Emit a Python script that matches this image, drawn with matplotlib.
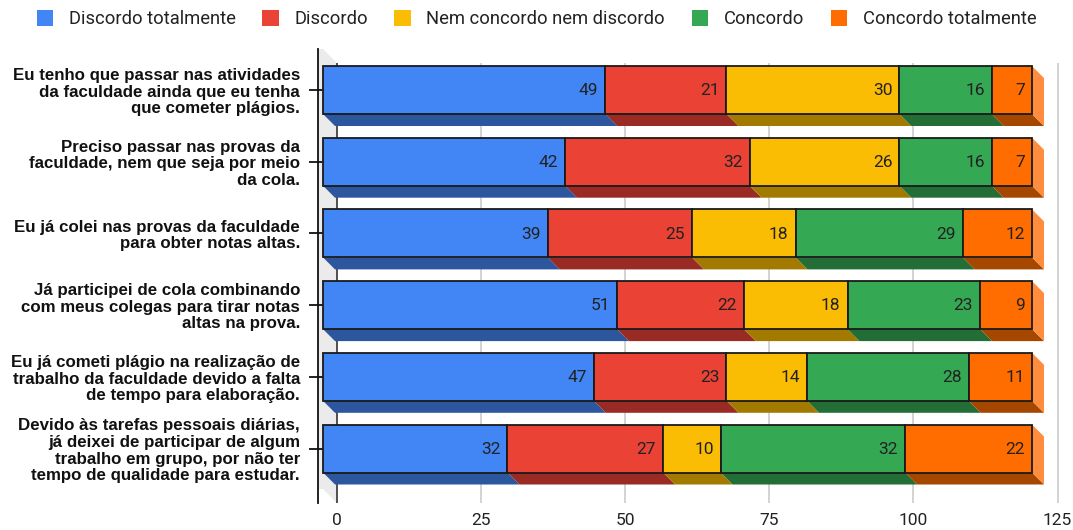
import matplotlib
matplotlib.use("Agg")
import matplotlib.pyplot as plt
from matplotlib.patches import Polygon, Patch
import numpy as np

plt.rcParams['font.family'] = ['Roboto', 'DejaVu Sans']

# dados do gráfico
perguntas = [
    "Eu tenho que passar nas atividades\nda faculdade ainda que eu tenha\nque cometer plágios.",
    "Preciso passar nas provas da\nfaculdade, nem que seja por meio\nda cola.",
    "Eu já colei nas provas da faculdade\npara obter notas altas.",
    "Já participei de cola combinando\ncom meus colegas para tirar notas\naltas na prova.",
    "Eu já cometi plágio na realização de\ntrabalho da faculdade devido a falta\nde tempo para elaboração.",
    "Devido às tarefas pessoais diárias,\njá deixei de participar de algum\ntrabalho em grupo, por não ter\ntempo de qualidade para estudar.",
]
respostas = ["Discordo totalmente", "Discordo", "Nem concordo nem discordo",
             "Concordo", "Concordo totalmente"]
discordo_totalmente = [49, 42, 39, 51, 47, 32]
discordo = [21, 32, 25, 22, 23, 27]
neutro = [30, 26, 18, 18, 14, 10]
concordo = [16, 16, 29, 23, 28, 32]
concordo_totalmente = [7, 7, 12, 9, 11, 22]
ticks_x = [0, 25, 50, 75, 100, 125]

series = [discordo_totalmente, discordo, neutro, concordo, concordo_totalmente]
cores = ["#4285F4", "#EA4335", "#FBBC04", "#34A853", "#FF6D01"]
sombras = ["#2C579E", "#992B24", "#A37A00", "#226E36", "#A64700"]
lateral = "#FF8D3D"

W, H = 1073, 530
fig = plt.figure(figsize=(W / 100, H / 100), dpi=100)

# geometria em pixels -> unidades de dados
px_x = 5.764          # pixels por unidade no plano da frente
px_y = 71.7           # pixels entre categorias
ax_l, ax_r, ax_t, ax_b = 318, 1060, 49, 503
x0_px, y0_px = 323, 90
ax = fig.add_axes([ax_l / W, (H - ax_b) / H, (ax_r - ax_l) / W, (ax_b - ax_t) / H])
xlim = (-(x0_px - ax_l) / px_x, (ax_r - x0_px) / px_x)
ylim = ((ax_b - y0_px) / px_y, (ax_t - y0_px) / px_y)
ax.set_xlim(*xlim)
ax.set_ylim(*ylim)

DX, DY = 12 / px_x, 12 / px_y          # profundidade das sombras
GDX, GDY = 14 / px_x, 14 / px_y        # profundidade do plano de fundo
altura = 48 / px_y
linhas = np.arange(len(perguntas))

# parede lateral cinza
parede = Polygon([(xlim[0], ylim[1]), (0, ylim[1]), (GDX, ylim[1] + GDY),
                  (GDX, ylim[0]), (0, ylim[0] - GDY), (xlim[0], ylim[0] - GDY)],
                 closed=True, facecolor="#EBEBEB", edgecolor="none", zorder=0.5)
ax.add_patch(parede)

# linhas de grade no plano de fundo
for t in ticks_x:
    ax.vlines(t + GDX, ylim[1] + GDY, ylim[0],
              colors="#333333" if t == 0 else "#CCCCCC", linewidth=1.2, zorder=1)

esquerda = np.zeros(len(perguntas))
for vals, cor, sombra, nome in zip(series, cores, sombras, respostas):
    vals = np.array(vals, dtype=float)
    for i, (x0, w) in enumerate(zip(esquerda, vals)):
        yb = i + altura / 2
        ax.add_patch(Polygon([(x0, yb), (x0 + w, yb), (x0 + w + DX, yb + DY), (x0 + DX, yb + DY)],
                             closed=True, facecolor=sombra, edgecolor="none", zorder=2))
    ax.barh(linhas, vals, left=esquerda, height=altura, color=cor,
            edgecolor="#1A1A1A", linewidth=1.3, zorder=3, label=nome)
    for i, (x0, w) in enumerate(zip(esquerda, vals)):
        ax.text(x0 + w - 7 / px_x, i + 0.01, f"{int(w)}", ha="right", va="center",
                fontsize=12.5, color="#222222", zorder=4)
    esquerda = esquerda + vals

# face lateral direita
for i, T in enumerate(esquerda):
    yt, yb = i - altura / 2, i + altura / 2
    ax.add_patch(Polygon([(T, yt), (T + DX, yt + DY), (T + DX, yb + DY), (T, yb)],
                         closed=True, facecolor=lateral, edgecolor="none", zorder=2))

# eixos
for s in ["top", "right", "bottom"]:
    ax.spines[s].set_visible(False)
ax.spines["left"].set_color("#111111")
ax.spines["left"].set_linewidth(1.3)
ax.spines["left"].set_zorder(5)

ax.set_yticks(linhas)
ax.set_yticklabels(perguntas, fontfamily="Liberation Sans", fontweight="bold",
                   fontsize=12.2, linespacing=1.13, color="#111111")
ax.tick_params(axis="y", direction="inout", length=13, width=1.3, color="#111111", pad=6.5)

ax.set_xticks([t + GDX for t in ticks_x])
ax.set_xticklabels([str(t) for t in ticks_x], fontsize=12.5, color="#222222")
ax.tick_params(axis="x", length=0, pad=7)

# legenda
handles = [Patch(facecolor=c, edgecolor="none") for c in cores]
fig.legend(handles, respostas, loc="center", bbox_to_anchor=(0.5, 1 - 19 / H), ncol=5,
           frameon=False, fontsize=13.2, handlelength=0.9, handleheight=1.0,
           handletextpad=0.85, columnspacing=1.45, labelcolor="#222222")

fig.savefig("out.png", dpi=100)
